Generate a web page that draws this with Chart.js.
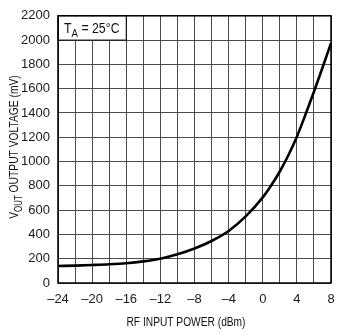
<!DOCTYPE html>
<html>
<head>
<meta charset="utf-8">
<script src="https://cdn.jsdelivr.net/npm/chart.js@4/dist/chart.umd.min.js"></script>
<style>
  html, body { margin: 0; padding: 0; background: #fff; }
  #wrap { width: 350px; height: 332px; position: relative; }
</style>
</head>
<body>
<div id="wrap"><canvas id="chart-vout"></canvas></div>
<script>
// RF input power (dBm) vs output voltage (mV)
const powerDbm = [-24, -22, -20, -18, -16, -14, -12, -10, -8, -6, -4, -2, 0, 1, 2, 3, 4, 5, 6, 7, 8];
const voutMv = [140, 143, 148, 154, 163, 178, 200, 236, 284, 346, 428, 548, 705, 805, 918, 1052, 1205, 1385, 1575, 1772, 1975];
const xTicks = [-24, -20, -16, -12, -8, -4, 0, 4, 8];
const yTicks = [0, 200, 400, 600, 800, 1000, 1200, 1400, 1600, 1800, 2000, 2200];

const fontFam = '"Liberation Sans", Arial, sans-serif';

// text with a subscript part, e.g. V + OUT
function drawSub(ctx, x, y, main, sub, rest, size) {
  ctx.font = size + 'px ' + fontFam;
  ctx.fillText(main, x, y);
  let w = ctx.measureText(main).width;
  ctx.font = Math.round(size * 0.75) + 'px ' + fontFam;
  ctx.fillText(sub, x + w, y + size * 0.3);
  w += ctx.measureText(sub).width;
  ctx.font = size + 'px ' + fontFam;
  ctx.fillText(rest, x + w, y);
}

function subWidth(ctx, main, sub, rest, size) {
  ctx.font = size + 'px ' + fontFam;
  let w = ctx.measureText(main).width + ctx.measureText(rest).width;
  ctx.font = Math.round(size * 0.75) + 'px ' + fontFam;
  return w + ctx.measureText(sub).width;
}

const decorPlugin = {
  id: 'decor',
  afterDraw(chart) {
    const ctx = chart.ctx;
    const area = chart.chartArea;
    const xs = chart.scales.x;
    const ys = chart.scales.y;
    ctx.save();

    // frame
    ctx.strokeStyle = '#000';
    ctx.lineWidth = 1.5;
    ctx.strokeRect(area.left, area.top, area.right - area.left, area.bottom - area.top);

    // temperature box
    const bx1 = xs.getPixelForValue(-16);
    const by1 = ys.getPixelForValue(2000);
    ctx.fillStyle = '#fff';
    ctx.fillRect(area.left + 1, area.top + 1, bx1 - area.left - 1, by1 - area.top - 1);
    ctx.lineWidth = 1;
    ctx.strokeRect(area.left, area.top, bx1 - area.left, by1 - area.top);
    ctx.fillStyle = '#111';
    ctx.textBaseline = 'alphabetic';
    ctx.textAlign = 'left';
    ctx.save();
    ctx.translate(area.left + 6, area.top + 17);
    ctx.scale(0.88, 1);
    drawSub(ctx, 0, 0, 'T', 'A', ' = 25°C', 14);
    ctx.restore();

    // x title
    ctx.save();
    ctx.translate(186, 326);
    ctx.scale(0.85, 1);
    ctx.font = '12px ' + fontFam;
    ctx.textAlign = 'center';
    ctx.fillText('RF INPUT POWER (dBm)', 0, 0);
    ctx.restore();

    // y title, rotated
    ctx.translate(18, 147);
    ctx.rotate(-Math.PI / 2);
    ctx.scale(0.79, 1);
    ctx.textAlign = 'left';
    const tw = subWidth(ctx, 'V', 'OUT', ' OUTPUT VOLTAGE (mV)', 13);
    drawSub(ctx, -tw / 2, 0, 'V', 'OUT', ' OUTPUT VOLTAGE (mV)', 13);
    ctx.restore();
  }
};

const ctxVout = document.getElementById('chart-vout').getContext('2d');
const voutChart = new Chart(ctxVout, {
  type: 'line',
  data: {
    datasets: [{
      data: powerDbm.map((p, i) => ({ x: p, y: voutMv[i] })),
      borderColor: '#000',
      borderWidth: 2.6,
      pointRadius: 0,
      cubicInterpolationMode: 'monotone',
      fill: false
    }]
  },
  options: {
    responsive: true,
    maintainAspectRatio: false,
    animation: false,
    layout: { padding: { left: 0, right: 19, top: 10, bottom: 0 } },
    plugins: {
      legend: { display: false },
      tooltip: { enabled: false }
    },
    scales: {
      x: {
        type: 'linear',
        min: -24,
        max: 8,
        afterFit: s => { s.height = 49; },
        afterBuildTicks: s => {
          s.ticks = [];
          for (let v = -24; v <= 8; v += 2) s.ticks.push({ value: v });
        },
        border: { display: false },
        grid: { color: '#4a4a4a', lineWidth: 1, drawTicks: false },
        ticks: {
          padding: 9,
          color: '#1a1a1a',
          maxRotation: 0,
          autoSkip: false,
          font: { family: fontFam, size: 13 },
          callback: v => xTicks.includes(v) ? String(v).replace('-', '\u2013') : ''
        }
      },
      y: {
        min: 0,
        max: 2200,
        afterFit: s => { s.width = 58; },
        afterBuildTicks: s => { s.ticks = yTicks.map(v => ({ value: v })); },
        border: { display: false },
        grid: { color: '#4a4a4a', lineWidth: 1, drawTicks: false },
        ticks: {
          padding: 8,
          color: '#1a1a1a',
          autoSkip: false,
          font: { family: fontFam, size: 13 },
          callback: v => String(v)
        }
      }
    }
  },
  plugins: [decorPlugin]
});
</script>
</body>
</html>
